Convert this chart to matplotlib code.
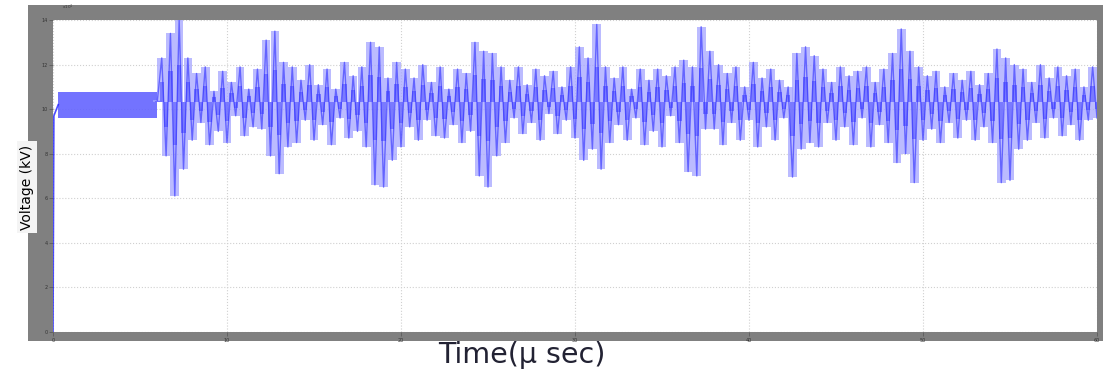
import matplotlib.pyplot as plt
import matplotlib.patches as mpatches
import numpy as np

# значения (время в условных единицах, напряжение в x10^4)
x_ticks = [0, 10, 20, 30, 40, 50, 60]
y_ticks = [0, 2, 4, 6, 8, 10, 12, 14]

# начальный подъём и установившаяся полоса до возмущения
rise_t = [0.0, 0.05, 0.3]
rise_v = [0.0, 9.7, 10.2]
band_t = [0.3, 6.0]
band_lo = 9.6
band_hi = 10.77
mid_level = 10.3

# шумовой участок: отсчёты через 0.25, начиная с t = 6
noise_t0 = 6.0
noise_dt = 0.25
noise_v = [
    10.4, 12.3, 7.9, 13.4, 6.1, 14.0, 7.3, 12.3,
    8.6, 11.6, 9.4, 11.9, 8.4, 10.8, 9.0, 11.7,
    8.5, 11.2, 9.7, 11.9, 8.8, 10.9, 9.2, 11.8,
    9.1, 13.1, 7.9, 13.5, 7.1, 12.1, 8.3, 11.9,
    8.5, 11.3, 9.5, 12.0, 8.6, 11.1, 9.3, 11.8,
    8.4, 10.9, 9.6, 12.1, 8.7, 11.5, 9.0, 11.9,
    8.3, 13.0, 6.6, 12.8, 6.5, 11.4, 7.7, 12.1,
    8.3, 11.8, 9.2, 11.4, 8.6, 12.0, 9.5, 11.2,
    8.8, 11.9, 8.7, 10.9, 9.3, 11.8, 8.5, 11.6,
    9.0, 13.0, 7.0, 12.6, 6.5, 12.5, 7.9, 11.9,
    8.5, 11.3, 9.6, 11.9, 8.9, 11.1, 9.4, 11.8,
    8.6, 11.5, 9.8, 11.7, 8.9, 11.0, 9.5, 11.9,
    8.7, 12.8, 7.7, 12.3, 8.2, 13.8, 7.3, 11.9,
    8.5, 11.4, 9.3, 11.9, 8.6, 10.9, 9.6, 11.8,
    8.4, 11.3, 9.0, 11.8, 8.3, 11.5, 9.7, 11.9,
    8.5, 12.2, 7.2, 11.9, 7.0, 13.7, 9.1, 12.6,
    9.1, 12.0, 8.4, 11.6, 9.4, 11.9, 8.6, 11.0,
    9.5, 12.1, 8.3, 11.4, 9.2, 11.8, 8.6, 11.3,
    9.6, 11.0, 6.95, 12.5, 8.2, 12.8, 8.5, 12.4,
    8.3, 11.8, 9.4, 11.2, 8.6, 11.9, 9.2, 11.5,
    8.4, 11.7, 9.6, 11.9, 8.3, 11.2, 9.3, 11.8,
    8.5, 12.5, 7.6, 13.6, 8.0, 12.6, 6.7, 11.9,
    8.6, 11.5, 9.1, 11.7, 8.5, 11.0, 9.4, 11.6,
    8.7, 11.3, 9.5, 11.7, 8.6, 11.1, 9.2, 11.6,
    8.5, 12.7, 6.7, 12.3, 6.8, 12.0, 8.2, 11.8,
    8.6, 11.2, 9.4, 12.0, 8.7, 11.4, 9.6, 11.9,
    8.8, 11.5, 9.3, 11.8, 8.6, 11.0, 9.5, 11.9,
    9.6,
]
noise_t = noise_t0 + noise_dt * np.arange(len(noise_v))
noise_v = np.array(noise_v)

W, H = 1113, 371
fig = plt.figure(figsize=(W / 100, H / 100), dpi=100)
fig.patch.set_facecolor('white')

# серая рамка осциллографа
frame = mpatches.Rectangle((28 / W, 1 - 341 / H), (1103 - 28) / W, (341 - 5) / H,
                           transform=fig.transFigure, facecolor='#808080',
                           edgecolor='none', zorder=-10)
fig.patches.append(frame)

ax = fig.add_axes([53 / W, 1 - 332 / H, (1097 - 53) / W, (332 - 20) / H])
ax.set_facecolor('white')
ax.set_xlim(0, 60)
ax.set_ylim(0, 14)

ax.plot(rise_t, rise_v, color='#2020ff', lw=1.2, alpha=0.8)
ax.fill_between(band_t, band_lo, band_hi, color='#6464ff', alpha=0.9, lw=0)
# светлая огибающая + более тёмная сердцевина
ax.bar(noise_t, noise_v - mid_level, bottom=mid_level, width=2 * noise_dt,
       color='#a4a4ff', alpha=0.75, lw=0)
ax.bar(noise_t, (noise_v - mid_level) * 0.45, bottom=mid_level, width=noise_dt,
       color='#5050ff', alpha=0.6, lw=0)
ax.plot(noise_t, noise_v, color='#2a2aff', lw=1.0, alpha=0.6)

ax.set_xticks(x_ticks)
ax.set_yticks(y_ticks)
ax.set_xticklabels([str(v) for v in x_ticks], fontsize=3.5, color='#333333')
ax.set_yticklabels([str(v) for v in y_ticks], fontsize=3.5, color='#333333')
ax.tick_params(length=3, width=0.5, color='#555555', pad=1)
ax.grid(True, color='#d0d0d0', linestyle=':', linewidth=0.8)
ax.set_axisbelow(True)
for s in ax.spines.values():
    s.set_visible(False)

fig.text(62 / W, 1 - 7 / H, r'x10$^4$', fontsize=3, color='#333333', va='center')

# подписи осей
fig.text(27 / W, 1 - 187 / H, 'Voltage (kV)', rotation=90, fontsize=10,
         ha='center', va='center', color='black',
         bbox=dict(facecolor='#f4f4f4', edgecolor='none', pad=2.5))
fig.text(522 / W, 1 - 355 / H, 'Time(\u03bc sec)', fontsize=20.5,
         ha='center', va='center', color='#222233')

plt.savefig('out.png', dpi=100)
